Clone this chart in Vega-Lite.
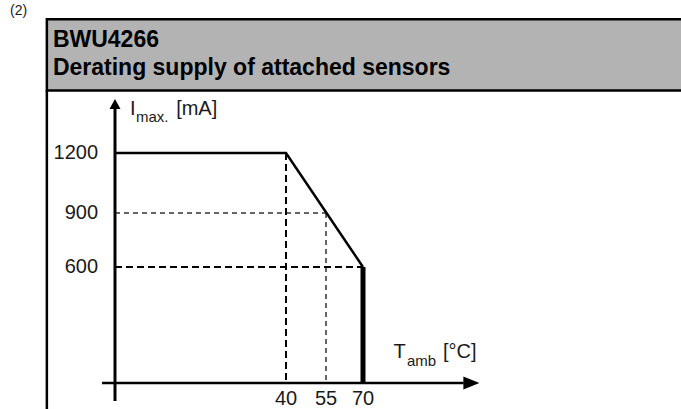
{
  "$schema": "https://vega.github.io/schema/vega-lite/v6.json",
  "width": 681,
  "height": 409,
  "autosize": "none",
  "padding": 0,
  "background": "white",
  "config": {"view": {"stroke": null}, "text": {"font": "Liberation Sans", "color": "black"}},
  "datasets": {
    "header": [{"t": -23.7, "t2": 196, "i": 1527, "i2": 1900}],
    "frameLeft": [{"t": -23.7, "i": 1527, "i2": -145}],
    "titleLines": [
      {"t": -21.6, "i": 1754, "label": "BWU4266"},
      {"t": -21.6, "i": 1608, "label": "Derating supply of attached sensors"}
    ],
    "note": [{"t": -36.5, "i": 1921, "label": "(2)"}],
    "xAxisLine": [{"t": -4.5, "t2": 108, "i": 0}],
    "yAxisLine": [{"t": 0, "i": -94, "i2": 1445}],
    "upArrow": [{"t": 0, "i": 1456}],
    "rightArrow": [{"t": 110.9, "i": 0}],
    "curve": [{"t": 0, "i": 1200}, {"t": 40, "i": 1200}, {"t": 70, "i": 600}],
    "cutoff": [{"t": 70, "i": 600, "i2": 0}],
    "majorGuides": [
      {"t": 0, "t2": 70, "i": 600, "i2": 600},
      {"t": 40, "t2": 40, "i": 1200, "i2": 0}
    ],
    "minorGuides": [
      {"t": 0, "t2": 55, "i": 900, "i2": 900},
      {"t": 55, "t2": 55, "i": 900, "i2": 0}
    ],
    "yTicks": [
      {"t": -5.9, "i": 1200, "label": "1200"},
      {"t": -5.9, "i": 900, "label": "900"},
      {"t": -5.9, "i": 600, "label": "600"}
    ],
    "xTicks": [
      {"t": 40, "i": -115, "label": "40"},
      {"t": 55, "i": -115, "label": "55"},
      {"t": 70, "i": -115, "label": "70"}
    ],
    "axisTitleMain": [
      {"t": 3.5, "i": 1399, "label": "I"},
      {"t": 14.3, "i": 1399, "label": "[mA]"},
      {"t": 81.5, "i": 129, "label": "T"},
      {"t": 100.2, "i": 129, "label": "[°C]"}
    ],
    "axisTitleSub": [
      {"t": 4.9, "i": 1362, "label": "max."},
      {"t": 86.6, "i": 88, "label": "amb"}
    ]
  },
  "encoding": {
    "x": {"field": "t", "type": "quantitative", "axis": null,
          "scale": {"domain": [-40, 0, 40, 55, 70, 190], "range": [0, 115, 286, 326, 363, 681], "nice": false, "zero": false}},
    "y": {"field": "i", "type": "quantitative", "axis": null,
          "scale": {"domain": [-136, 0, 600, 900, 1200, 2000], "range": [409, 383, 267, 213, 153, 0], "nice": false, "zero": false}}
  },
  "layer": [
    {"data": {"name": "header"}, "mark": {"type": "rect", "fill": "#b3b3b3", "stroke": "black", "strokeWidth": 2.5},
     "encoding": {"x2": {"field": "t2"}, "y2": {"field": "i2"}}},
    {"data": {"name": "frameLeft"}, "mark": {"type": "rule", "color": "black", "strokeWidth": 2.5},
     "encoding": {"y2": {"field": "i2"}}},
    {"data": {"name": "titleLines"}, "mark": {"type": "text", "fontSize": 23, "fontWeight": "bold", "align": "left", "baseline": "alphabetic"},
     "encoding": {"text": {"field": "label"}}},
    {"data": {"name": "note"}, "mark": {"type": "text", "fontSize": 14, "align": "left", "baseline": "alphabetic", "color": "#1a1a1a"},
     "encoding": {"text": {"field": "label"}}},
    {"data": {"name": "minorGuides"}, "mark": {"type": "rule", "color": "#333333", "strokeWidth": 1.5, "strokeDash": [5, 4]},
     "encoding": {"x2": {"field": "t2"}, "y2": {"field": "i2"}}},
    {"data": {"name": "majorGuides"}, "mark": {"type": "rule", "color": "black", "strokeWidth": 2, "strokeDash": [7, 4]},
     "encoding": {"x2": {"field": "t2"}, "y2": {"field": "i2"}}},
    {"data": {"name": "xAxisLine"}, "mark": {"type": "rule", "color": "black", "strokeWidth": 2.5},
     "encoding": {"x2": {"field": "t2"}}},
    {"data": {"name": "yAxisLine"}, "mark": {"type": "rule", "color": "black", "strokeWidth": 3},
     "encoding": {"y2": {"field": "i2"}}},
    {"data": {"name": "upArrow"}, "mark": {"type": "point", "shape": "M0,-1L1.1,1L-1.1,1Z", "size": 100, "filled": true, "color": "black", "opacity": 1}},
    {"data": {"name": "rightArrow"}, "mark": {"type": "point", "shape": "M1,0L-1,-0.8L-1,0.8Z", "size": 256, "filled": true, "color": "black", "opacity": 1}},
    {"data": {"name": "curve"}, "mark": {"type": "line", "color": "black", "strokeWidth": 2.5, "strokeJoin": "miter"}},
    {"data": {"name": "cutoff"}, "mark": {"type": "rule", "color": "black", "strokeWidth": 5},
     "encoding": {"y2": {"field": "i2"}}},
    {"data": {"name": "yTicks"}, "mark": {"type": "text", "fontSize": 20, "align": "right", "baseline": "middle", "color": "#1a1a1a"},
     "encoding": {"text": {"field": "label"}}},
    {"data": {"name": "xTicks"}, "mark": {"type": "text", "fontSize": 20, "align": "center", "baseline": "alphabetic", "color": "#1a1a1a"},
     "encoding": {"text": {"field": "label"}}},
    {"data": {"name": "axisTitleMain"}, "mark": {"type": "text", "fontSize": 20, "align": "left", "baseline": "alphabetic", "color": "#1a1a1a"},
     "encoding": {"text": {"field": "label"}}},
    {"data": {"name": "axisTitleSub"}, "mark": {"type": "text", "fontSize": 15, "align": "left", "baseline": "alphabetic", "color": "#1a1a1a"},
     "encoding": {"text": {"field": "label"}}}
  ]
}
